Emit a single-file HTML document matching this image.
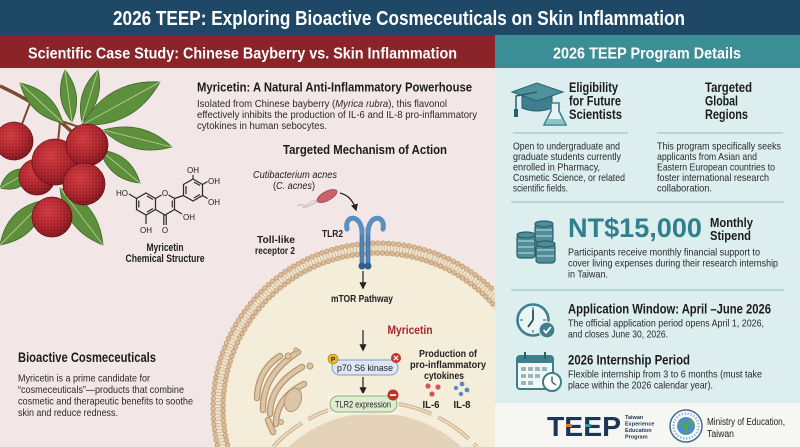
<!DOCTYPE html>
<html><head><meta charset="utf-8"><style>
html,body{margin:0;padding:0;background:#fff;width:800px;height:447px;overflow:hidden;}
svg{display:block;}
text{font-family:"Liberation Sans",Arial,sans-serif;}
</style></head><body>
<svg width="800" height="447" viewBox="0 0 800 447" xmlns="http://www.w3.org/2000/svg" style="overflow:hidden">
<defs>
 <radialGradient id="berry" cx="0.4" cy="0.35" r="0.7">
  <stop offset="0" stop-color="#cf3a3e"/>
  <stop offset="0.6" stop-color="#a8212a"/>
  <stop offset="1" stop-color="#73131a"/>
 </radialGradient>
 <pattern id="bdots" width="3.2" height="3.2" patternUnits="userSpaceOnUse">
  <circle cx="1.6" cy="1.6" r="0.7" fill="#e0706a" opacity="0.4"/>
 </pattern>
 <clipPath id="leftclip"><rect x="0" y="68" width="495" height="379"/></clipPath>
 <marker id="ah" viewBox="0 0 10 10" refX="8" refY="5" markerWidth="6" markerHeight="6" orient="auto-start-reverse">
  <path d="M0,0 L10,5 L0,10 z" fill="#222"/>
 </marker>
</defs>

<!-- backgrounds -->
<rect width="800" height="447" fill="#f3e6e6"/>
<rect x="495" y="68" width="305" height="335" fill="#dceeee"/>
<rect x="495" y="403" width="305" height="44" fill="#f6f6f3"/>
<rect x="0" y="0" width="800" height="35" fill="#1f4766"/>
<rect x="0" y="35" width="495" height="33" fill="#8a2428"/>
<rect x="495" y="35" width="305" height="33" fill="#3b8d96"/>

<text x="113" y="25" font-size="20" font-weight="bold" fill="#fff" textLength="572" lengthAdjust="spacingAndGlyphs">2026 TEEP: Exploring Bioactive Cosmeceuticals on Skin Inflammation</text>
<text x="28" y="58.5" font-size="16" font-weight="bold" fill="#fff" textLength="429" lengthAdjust="spacingAndGlyphs">Scientific Case Study: Chinese Bayberry vs. Skin Inflammation</text>
<text x="553" y="58.5" font-size="16" font-weight="bold" fill="#fff" textLength="188" lengthAdjust="spacingAndGlyphs">2026 TEEP Program Details</text>

<!-- ===== CELL ===== -->
<g clip-path="url(#leftclip)">
 <path d="M215.6,447 A167,167 0 0 1 495,288.8 L495,447 Z" fill="#eee2cc"/>
 <path d="M222.3,445 A160,160 0 0 1 495,298.9" fill="none" stroke="#cdb08c" stroke-width="7" stroke-dasharray="0.7 2.4"/>
 <path d="M217.2,445 A165,165 0 0 1 495,291.7" fill="none" stroke="#b8946f" stroke-width="5.2" stroke-dasharray="0 5.2" stroke-linecap="round"/>
 <path d="M217.2,445 A165,165 0 0 1 495,291.7" fill="none" stroke="#dcbd98" stroke-width="3.8" stroke-dasharray="0 5.2" stroke-linecap="round"/>
 <path d="M227.5,445 A155,155 0 0 1 495,306.3" fill="none" stroke="#b8946f" stroke-width="5.2" stroke-dasharray="0 5" stroke-linecap="round"/>
 <path d="M227.5,445 A155,155 0 0 1 495,306.3" fill="none" stroke="#dcbd98" stroke-width="3.8" stroke-dasharray="0 5" stroke-linecap="round"/>
 <path d="M231.1,447 A152,152 0 0 1 495,311 L495,447 Z" fill="#f4edd9"/>
 <!-- nucleus -->
 <path d="M273,447 A138,138 0 0 1 477,447" fill="none" stroke="#d3b894" stroke-width="4" stroke-dasharray="38 7"/>
 <path d="M273,447 A138,138 0 0 1 477,447" fill="none" stroke="#f1e6d2" stroke-width="1.2" stroke-dasharray="38 7"/>
 <path d="M288.5,447 A127,127 0 0 1 461.5,447 Z" fill="#e4d2b9"/>
 <!-- golgi -->
 <g fill="none" stroke-linecap="round">
  <g stroke="#b7966f" stroke-width="6.5">
   <path d="M257,398 Q258,370 280,356"/>
   <path d="M263,410 Q262,375 298,352"/>
   <path d="M270,414 Q270,385 302,367"/>
   <path d="M276,424 Q276,398 304,384"/>
   <path d="M268,420 L273,432"/>
  </g>
  <g stroke="#dcc6a7" stroke-width="4">
   <path d="M257,398 Q258,370 280,356"/>
   <path d="M263,410 Q262,375 298,352"/>
   <path d="M270,414 Q270,385 302,367"/>
   <path d="M276,424 Q276,398 304,384"/>
   <path d="M268,420 L273,432"/>
  </g>
 </g>
 <g fill="#dcc6a7" stroke="#b7966f" stroke-width="1">
  <circle cx="288" cy="356" r="3"/><circle cx="310" cy="366" r="3"/>
  <circle cx="281" cy="422" r="2.5"/><circle cx="296" cy="350" r="2"/>
  <ellipse cx="293" cy="400" rx="8" ry="12" transform="rotate(20 293 400)"/>
 </g>
</g>

<!-- ===== BERRY BRANCH ===== -->
<path d="M0,86 Q30,100 55,118 Q70,128 80,142" fill="none" stroke="#7a4a2e" stroke-width="3.5"/>
<path d="M30,103 L22,124 M58,120 L82,128 M60,122 L58,142 M70,130 L84,165" fill="none" stroke="#7a4a2e" stroke-width="2"/>
<g fill="#5e8f3d" stroke="#3e6a2a" stroke-width="0.8">
 <path d="M20,83 Q29,116 63,123 Q54,90 20,83Z"/>
 <path d="M72,122 Q84,94 65,70 Q53,98 72,122Z"/>
 <path d="M82,122 Q105,100 98,70 Q75,92 82,122Z"/>
 <path d="M82,125 Q134,128 160,82 Q108,79 82,125Z"/>
 <path d="M103,130 Q132,158 172,147 Q143,119 103,130Z"/>
 <path d="M100,150 Q109,180 140,183 Q131,153 100,150Z"/>
 <path d="M32,170 Q8,164 0,188 Q24,194 32,170Z"/>
 <path d="M45,200 Q7,207 0,245 Q38,238 45,200Z"/>
 <path d="M60,188 Q64,230 103,245 Q99,203 60,188Z"/>
</g>
<g stroke="#b3cf8f" stroke-width="0.9" fill="none">
 <path d="M20,83 L63,123 M72,122 L65,70 M82,122 L98,70 M82,125 L160,82 M103,130 L172,147 M100,150 L140,183 M32,170 L0,188 M45,200 L0,245 M60,188 L103,245"/>
</g>
<g stroke="#6e1116" stroke-width="0.6">
 <circle cx="37" cy="177" r="18" fill="url(#berry)"/><circle cx="37" cy="177" r="18" fill="url(#bdots)"/>
 <circle cx="14" cy="141" r="19" fill="url(#berry)"/><circle cx="14" cy="141" r="19" fill="url(#bdots)"/>
 <circle cx="55" cy="162" r="23" fill="url(#berry)"/><circle cx="55" cy="162" r="23" fill="url(#bdots)"/>
 <circle cx="87" cy="145" r="21" fill="url(#berry)"/><circle cx="87" cy="145" r="21" fill="url(#bdots)"/>
 <circle cx="84" cy="184" r="21" fill="url(#berry)"/><circle cx="84" cy="184" r="21" fill="url(#bdots)"/>
 <circle cx="52" cy="217" r="20" fill="url(#berry)"/><circle cx="52" cy="217" r="20" fill="url(#bdots)"/>
</g>

<!-- ===== CHEMICAL STRUCTURE ===== -->
<g stroke="#2a2a2a" stroke-width="1.2" fill="none">
 <polygon points="146,193 155.5,198.5 155.5,209.5 146,215 136.5,209.5 136.5,198.5"/>
 <path d="M138.8,200.5 L138.8,207.5 M147,196 L153,199.5 M147,212 L153,208.5"/>
 <path d="M155.5,198.5 L161.5,195 M168.5,195 L174.5,198.5 L174.5,209.5 L165,215 L155.5,209.5"/>
 <path d="M172.3,200.5 L172.3,207.5"/>
 <path d="M163.8,215 L163.8,225 M166.2,215 L166.2,225"/>
 <path d="M146,215 L146,224"/>
 <path d="M136.5,198.5 L129,194"/>
 <path d="M174.5,209.5 L182,214"/>
 <path d="M174.5,198.5 L183.5,195.5"/>
 <polygon points="193,179 202.5,184.5 202.5,195.5 193,201 183.5,195.5 183.5,184.5"/>
 <path d="M186,186 L186,194 M194,182 L200,185.5 M194,198 L200,194.5"/>
 <path d="M193,179 L193,175 M202.5,184.5 L207.5,181.5 M202.5,195.5 L207.5,198.5"/>
</g>
<g font-size="8" fill="#222">
 <text x="165" y="196" text-anchor="middle">O</text>
 <text x="165" y="233" text-anchor="middle">O</text>
 <text x="146" y="233" text-anchor="middle">OH</text>
 <text x="128" y="196" text-anchor="end">HO</text>
 <text x="183" y="220">OH</text>
 <text x="193" y="173" text-anchor="middle">OH</text>
 <text x="208" y="184">OH</text>
 <text x="208" y="205">OH</text>
</g>
<text x="165" y="251" font-size="11" font-weight="bold" fill="#222" text-anchor="middle" textLength="37" lengthAdjust="spacingAndGlyphs">Myricetin</text>
<text x="165" y="262" font-size="11" font-weight="bold" fill="#222" text-anchor="middle" textLength="79" lengthAdjust="spacingAndGlyphs">Chemical Structure</text>

<!-- ===== LEFT TEXT ===== -->
<text x="197" y="91.5" font-size="13" font-weight="bold" fill="#1c1c1c" textLength="275" lengthAdjust="spacingAndGlyphs">Myricetin: A Natural Anti-Inflammatory Powerhouse</text>
<g font-size="10.5" fill="#2a2a2a">
 <text x="197" y="107" textLength="250" lengthAdjust="spacingAndGlyphs">Isolated from Chinese bayberry (<tspan font-style="italic">Myrica rubra</tspan>), this flavonol</text>
 <text x="197" y="118" textLength="280" lengthAdjust="spacingAndGlyphs">effectively inhibits the production of IL-6 and IL-8 pro-inflammatory</text>
 <text x="197" y="129" textLength="130" lengthAdjust="spacingAndGlyphs">cytokines in human sebocytes.</text>
</g>
<text x="283" y="154" font-size="13" font-weight="bold" fill="#1c1c1c" textLength="164" lengthAdjust="spacingAndGlyphs">Targeted Mechanism of Action</text>

<text x="253" y="178" font-size="10" font-style="italic" fill="#222" textLength="84" lengthAdjust="spacingAndGlyphs">Cutibacterium acnes</text>
<text x="273" y="189" font-size="10" fill="#222" textLength="42" lengthAdjust="spacingAndGlyphs">(<tspan font-style="italic">C. acnes</tspan>)</text>
<!-- bacterium -->
<path d="M317,201 q-4,-1 -7,2 t-7,2 t-6,1 M317,202 q-4,2 -8,4 t-7,1" fill="none" stroke="#b8b0b0" stroke-width="0.8"/>
<ellipse cx="327" cy="196" rx="11" ry="4.5" transform="rotate(-28 327 196)" fill="#c8626d" stroke="#9c4350" stroke-width="0.8"/>
<path d="M340,193 Q352,196 356,210" fill="none" stroke="#222" stroke-width="1.2" marker-end="url(#ah)"/>

<!-- TLR2 receptor -->
<g>
 <rect x="360" y="228" width="4" height="38" fill="#4f86b8" stroke="#2f5f8f" stroke-width="0.6"/>
 <rect x="366" y="228" width="4" height="38" fill="#4f86b8" stroke="#2f5f8f" stroke-width="0.6"/>
 <path d="M362,233 C362,214 344,214 347,229" fill="none" stroke="#5a90c0" stroke-width="5" stroke-linecap="round"/>
 <path d="M368,233 C368,214 386,214 383,229" fill="none" stroke="#5a90c0" stroke-width="5" stroke-linecap="round"/>
 <circle cx="362" cy="266" r="3.5" fill="#2f5f8f"/><circle cx="368" cy="266" r="3.5" fill="#2f5f8f"/>
</g>
<text x="322" y="237" font-size="10" font-weight="bold" fill="#222" textLength="21" lengthAdjust="spacingAndGlyphs">TLR2</text>
<text x="257" y="243" font-size="10" font-weight="bold" fill="#222" textLength="38" lengthAdjust="spacingAndGlyphs">Toll-like</text>
<text x="255" y="254" font-size="10" font-weight="bold" fill="#222" textLength="40" lengthAdjust="spacingAndGlyphs">receptor 2</text>

<!-- pathway -->
<g stroke="#222" stroke-width="1.2" fill="none">
 <path d="M363,271 L363,288" marker-end="url(#ah)"/>
 <path d="M363,330 L363,350" marker-end="url(#ah)"/>
 <path d="M363,377 L363,393" marker-end="url(#ah)"/>
</g>
<text x="362" y="302" font-size="10.5" font-weight="bold" fill="#222" text-anchor="middle" textLength="62" lengthAdjust="spacingAndGlyphs">mTOR Pathway</text>
<text x="410" y="334" font-size="12" font-weight="bold" fill="#a3262c" text-anchor="middle" textLength="45" lengthAdjust="spacingAndGlyphs">Myricetin</text>

<rect x="332" y="360" width="66" height="15" rx="7.5" fill="#dde7f3" stroke="#7b9cc4" stroke-width="1"/>
<text x="365" y="371" font-size="9.5" fill="#222" text-anchor="middle" textLength="56" lengthAdjust="spacingAndGlyphs">p70 S6 kinase</text>
<circle cx="333" cy="359" r="5" fill="#e8b923" stroke="#a07c10" stroke-width="0.6"/>
<text x="333" y="361.5" font-size="6.5" font-weight="bold" fill="#222" text-anchor="middle">P</text>
<circle cx="396" cy="358" r="5" fill="#c9302c"/>
<path d="M393.8,355.8 L398.2,360.2 M398.2,355.8 L393.8,360.2" stroke="#fff" stroke-width="1.2"/>

<rect x="328" y="393" width="71" height="22" fill="#f7f3e8" opacity="0.7"/>
<rect x="330" y="396" width="67" height="16" rx="8" fill="#dfeccf" stroke="#8fb27a" stroke-width="1"/>
<text x="363" y="407.5" font-size="9.5" fill="#222" text-anchor="middle" textLength="56" lengthAdjust="spacingAndGlyphs">TLR2 expression</text>
<circle cx="393" cy="395" r="5.5" fill="#c9302c"/>
<rect x="390" y="394.2" width="6" height="1.8" fill="#fff"/>

<g font-size="10.5" font-weight="bold" fill="#222" text-anchor="middle">
 <text x="448" y="357" textLength="58" lengthAdjust="spacingAndGlyphs">Production of</text>
 <text x="448" y="368" textLength="76" lengthAdjust="spacingAndGlyphs">pro-inflammatory</text>
 <text x="444" y="379" textLength="40" lengthAdjust="spacingAndGlyphs">cytokines</text>
 <text x="431" y="408" font-size="10" textLength="17" lengthAdjust="spacingAndGlyphs">IL-6</text>
 <text x="462" y="408" font-size="10" textLength="17" lengthAdjust="spacingAndGlyphs">IL-8</text>
</g>
<g fill="#d4555a"><circle cx="428" cy="386" r="2.6"/><circle cx="438" cy="387" r="2.6"/><circle cx="432" cy="394" r="2.6"/></g>
<g fill="#5b8dbb"><circle cx="456" cy="388" r="2.2"/><circle cx="462" cy="384" r="2.4"/><circle cx="467" cy="390" r="2.4"/><circle cx="461" cy="394" r="2.2"/></g>

<text x="18" y="362" font-size="13.5" font-weight="bold" fill="#1c1c1c" textLength="138" lengthAdjust="spacingAndGlyphs">Bioactive Cosmeceuticals</text>
<g font-size="10.5" fill="#2a2a2a">
 <text x="18" y="381.5" textLength="132" lengthAdjust="spacingAndGlyphs">Myricetin is a prime candidate for</text>
 <text x="18" y="393" textLength="166" lengthAdjust="spacingAndGlyphs">“cosmeceuticals”—products that combine</text>
 <text x="18" y="404.5" textLength="175" lengthAdjust="spacingAndGlyphs">cosmetic and therapeutic benefits to soothe</text>
 <text x="18" y="416" textLength="100" lengthAdjust="spacingAndGlyphs">skin and reduce redness.</text>
</g>

<!-- ===== RIGHT PANEL ===== -->
<!-- grad cap -->
<g>
 <path d="M522,96 L522,108 Q537,114 552,108 L552,96 Z" fill="#3d7f8c" stroke="#2c5f6c" stroke-width="1"/>
 <polygon points="512,92 537,83 563,92 537,101" fill="#4e929d" stroke="#2c5f6c" stroke-width="1"/>
 <path d="M537,92 L516,96 L516,110" fill="none" stroke="#2c5f6c" stroke-width="1.5"/>
 <rect x="514" y="109" width="4" height="8" fill="#2c5f6c"/>
 <path d="M551,103 L551,111 L544,125 L566,125 L559,111 L559,103 Z" fill="#e6f3f3" stroke="#3d7f8c" stroke-width="1.6"/>
 <path d="M547.5,119 L562.5,119 L565,124 L545,124 Z" fill="#8cc3c8"/>
</g>
<g font-size="13.5" font-weight="bold" fill="#1c1c1c">
 <text x="569" y="92" textLength="49" lengthAdjust="spacingAndGlyphs">Eligibility</text>
 <text x="569" y="105.5" textLength="52" lengthAdjust="spacingAndGlyphs">for Future</text>
 <text x="569" y="119" textLength="53" lengthAdjust="spacingAndGlyphs">Scientists</text>
 <text x="705" y="92" textLength="47" lengthAdjust="spacingAndGlyphs">Targeted</text>
 <text x="705" y="105.5" textLength="33" lengthAdjust="spacingAndGlyphs">Global</text>
 <text x="705" y="119" textLength="43" lengthAdjust="spacingAndGlyphs">Regions</text>
</g>
<g stroke="#a9cfd2" stroke-width="1.5">
 <line x1="513" y1="133" x2="628" y2="133"/>
 <line x1="657" y1="133" x2="783" y2="133"/>
 <line x1="511" y1="202" x2="784" y2="202"/>
 <line x1="511" y1="290" x2="784" y2="290"/>
</g>
<g font-size="10.5" fill="#2a2a2a">
 <text x="513" y="149.5" textLength="107" lengthAdjust="spacingAndGlyphs">Open to undergraduate and</text>
 <text x="513" y="160" textLength="108" lengthAdjust="spacingAndGlyphs">graduate students currently</text>
 <text x="513" y="170.5" textLength="87" lengthAdjust="spacingAndGlyphs">enrolled in Pharmacy,</text>
 <text x="513" y="181" textLength="112" lengthAdjust="spacingAndGlyphs">Cosmetic Science, or related</text>
 <text x="513" y="191.5" textLength="55" lengthAdjust="spacingAndGlyphs">scientific fields.</text>
 <text x="657" y="149.5" textLength="124" lengthAdjust="spacingAndGlyphs">This program specifically seeks</text>
 <text x="657" y="160" textLength="100" lengthAdjust="spacingAndGlyphs">applicants from Asian and</text>
 <text x="657" y="170.5" textLength="118" lengthAdjust="spacingAndGlyphs">Eastern European countries to</text>
 <text x="657" y="181" textLength="112" lengthAdjust="spacingAndGlyphs">foster international research</text>
 <text x="657" y="191.5" textLength="55" lengthAdjust="spacingAndGlyphs">collaboration.</text>
</g>

<!-- coins -->
<g fill="#4f8d99" stroke="#2c5f6c" stroke-width="1.2">
 <rect x="535" y="224" width="18" height="18" rx="3"/>
 <ellipse cx="544" cy="224" rx="9" ry="3"/>
 <rect x="517" y="235" width="18" height="23" rx="3"/>
 <ellipse cx="526" cy="235" rx="9" ry="3"/>
 <rect x="536" y="244" width="19" height="19" rx="3"/>
 <ellipse cx="545.5" cy="244" rx="9.5" ry="3"/>
</g>
<g stroke="#c4e0e2" stroke-width="0.9">
 <path d="M536,230 L552,230 M536,236 L552,236 M518,241 L534,241 M518,247 L534,247 M518,253 L534,253 M537,250 L554,250 M537,256 L554,256"/>
</g>
<text x="568" y="237" font-size="27" font-weight="bold" fill="#2f7f8c" textLength="134" lengthAdjust="spacingAndGlyphs">NT$15,000</text>
<text x="710" y="227" font-size="13" font-weight="bold" fill="#1c1c1c" textLength="43" lengthAdjust="spacingAndGlyphs">Monthly</text>
<text x="710" y="240" font-size="13" font-weight="bold" fill="#1c1c1c" textLength="41" lengthAdjust="spacingAndGlyphs">Stipend</text>
<g font-size="10.5" fill="#2a2a2a">
 <text x="568" y="255.5" textLength="192" lengthAdjust="spacingAndGlyphs">Participants receive monthly financial support to</text>
 <text x="568" y="266.5" textLength="210" lengthAdjust="spacingAndGlyphs">cover living expenses during their research internship</text>
 <text x="568" y="277.5" textLength="40" lengthAdjust="spacingAndGlyphs">in Taiwan.</text>
</g>

<!-- clock -->
<circle cx="533" cy="320" r="15.5" fill="#eaf5f5" stroke="#3d7f8c" stroke-width="2.6"/>
<g stroke="#2c5f6c" stroke-width="1">
 <path d="M533,307 L533,310 M533,330 L533,333 M520,320 L523,320 M543,320 L546,320"/>
</g>
<path d="M533,320 L533,310 M533,320 L528,327" stroke="#1f3a44" stroke-width="1.6" fill="none"/>
<circle cx="547" cy="330" r="8" fill="#3d7f8c" stroke="#eaf5f5" stroke-width="1.2"/>
<path d="M543.5,330 L546,332.8 L550.8,327" stroke="#fff" stroke-width="1.8" fill="none"/>
<text x="568" y="313.5" font-size="14" font-weight="bold" fill="#1c1c1c" textLength="203" lengthAdjust="spacingAndGlyphs">Application Window: April –June 2026</text>
<g font-size="10.5" fill="#2a2a2a">
 <text x="568" y="326.5" textLength="196" lengthAdjust="spacingAndGlyphs">The official application period opens April 1, 2026,</text>
 <text x="568" y="337.5" textLength="100" lengthAdjust="spacingAndGlyphs">and closes June  30, 2026.</text>
</g>

<!-- calendar -->
<rect x="517" y="356" width="36" height="33" rx="3" fill="#f2f8f8" stroke="#3d7f8c" stroke-width="2"/>
<rect x="517" y="356" width="36" height="7" rx="2" fill="#3d7f8c"/>
<path d="M525,352 L525,359 M545,352 L545,359" stroke="#2c5f6c" stroke-width="2"/>
<g fill="#9bb9bd">
 <rect x="521" y="367" width="5" height="4"/><rect x="528" y="367" width="5" height="4"/><rect x="535" y="367" width="5" height="4"/><rect x="542" y="367" width="5" height="4"/>
 <rect x="521" y="374" width="5" height="4"/><rect x="528" y="374" width="5" height="4"/><rect x="535" y="374" width="5" height="4"/>
 <rect x="521" y="381" width="5" height="4"/><rect x="528" y="381" width="5" height="4"/>
</g>
<circle cx="552" cy="382" r="9" fill="#fff" stroke="#3d7f8c" stroke-width="2"/>
<path d="M552,382 L552,376.5 M552,382 L556,385" stroke="#2c5f6c" stroke-width="1.4" fill="none"/>
<text x="568" y="364.5" font-size="14" font-weight="bold" fill="#1c1c1c" textLength="122" lengthAdjust="spacingAndGlyphs">2026 Internship Period</text>
<g font-size="10.5" fill="#2a2a2a">
 <text x="568" y="377.5" textLength="194" lengthAdjust="spacingAndGlyphs">Flexible internship from 3 to 6 months (must take</text>
 <text x="568" y="388.5" textLength="145" lengthAdjust="spacingAndGlyphs">place within the 2026 calendar year).</text>
</g>

<!-- footer logos -->
<text x="547" y="436" font-size="28" font-weight="bold" fill="#1d3557" textLength="74" lengthAdjust="spacingAndGlyphs">TEEP</text>
<rect x="566" y="424" width="6" height="3" fill="#e8762c"/>
<rect x="585" y="424" width="6" height="3" fill="#2f9aa6"/>
<g font-size="5.5" font-weight="bold" fill="#1d3557">
 <text x="625" y="419">Taiwan</text>
 <text x="625" y="425.5">Experience</text>
 <text x="625" y="432">Education</text>
 <text x="625" y="438.5">Program</text>
</g>
<circle cx="686" cy="426" r="16" fill="#fff" stroke="#3b6e95" stroke-width="1.5"/>
<circle cx="686" cy="426" r="12.5" fill="none" stroke="#9fb6c8" stroke-width="2.5" stroke-dasharray="1.5 1.5"/>
<circle cx="686" cy="426" r="9" fill="#4a90c2"/>
<path d="M686,433 L686,424 M686,427 Q681,421 679,424 M686,426 Q691,419 693,423" stroke="#5aa845" stroke-width="2.2" fill="none"/>
<text x="707" y="425" font-size="10" fill="#222" textLength="78" lengthAdjust="spacingAndGlyphs">Ministry of Education,</text>
<text x="707" y="437" font-size="10" fill="#222" textLength="27" lengthAdjust="spacingAndGlyphs">Taiwan</text>
</svg>
</body></html>
